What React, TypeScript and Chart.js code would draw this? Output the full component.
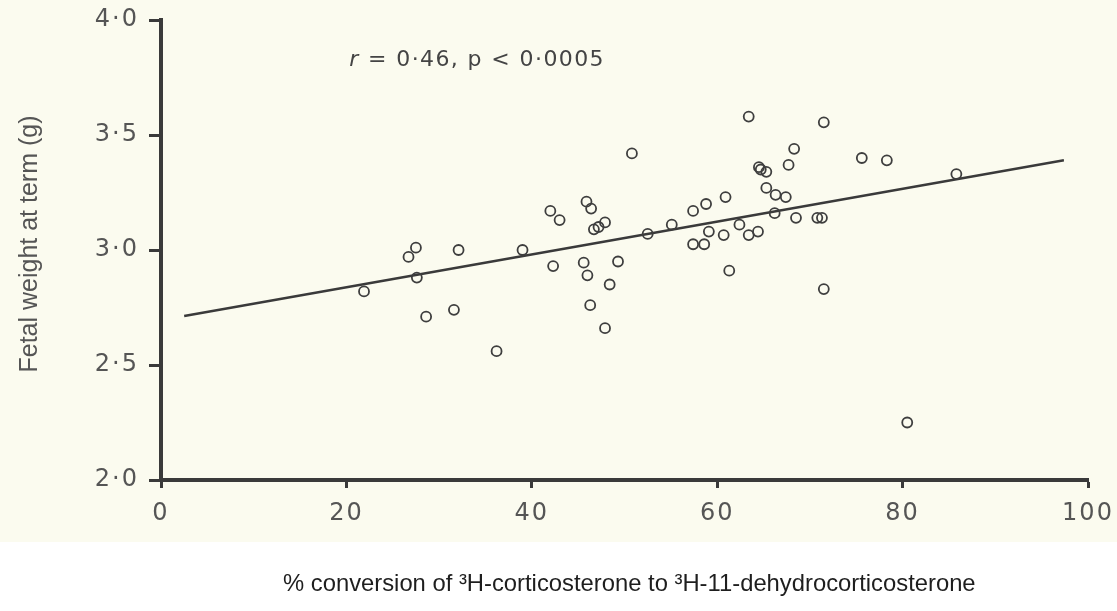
import React, { useEffect, useRef } from "react";
import { Chart, registerables } from "chart.js";

Chart.register(...registerables);

// % conversion of 3H-corticosterone (x) against fetal weight at term in g (y)
const conversionPct = [
  21.9, 26.7, 27.5, 27.6, 28.6, 31.6, 32.1, 36.2, 39.0, 42.0,
  43.0, 42.3, 45.6, 45.9, 46.4, 46.0, 46.3, 46.7, 47.2, 47.9,
  47.9, 48.4, 49.3, 50.8, 52.5, 55.1, 57.4, 57.4, 58.6, 58.8,
  59.1, 60.7, 60.9, 61.3, 62.4, 63.4, 63.4, 64.4, 64.5, 64.7,
  65.3, 65.3, 66.2, 66.3, 67.4, 67.7, 68.3, 68.5, 70.8, 71.3,
  71.5, 71.5, 75.6, 78.3, 80.5, 85.8,
];
const fetalWeight = [
  2.82, 2.97, 3.01, 2.88, 2.71, 2.74, 3.0, 2.56, 3.0, 3.17,
  3.13, 2.93, 2.945, 3.21, 3.18, 2.89, 2.76, 3.09, 3.1, 3.12,
  2.66, 2.85, 2.95, 3.42, 3.07, 3.11, 3.17, 3.025, 3.025, 3.2,
  3.08, 3.065, 3.23, 2.91, 3.11, 3.58, 3.065, 3.08, 3.36, 3.35,
  3.34, 3.27, 3.16, 3.24, 3.23, 3.37, 3.44, 3.14, 3.14, 3.14,
  3.555, 2.83, 3.4, 3.39, 2.25, 3.33,
];

// Regression line end points
const fitLineX = [2.5, 97.4];
const fitLineY = [2.713, 3.39];

const xTickValues = [0, 20, 40, 60, 80, 100];
const xTickLabels = ["0", "20", "40", "60", "80", "100"];
const yTickValues = [2.0, 2.5, 3.0, 3.5, 4.0];
const yTickLabels = ["2·0", "2·5", "3·0", "3·5", "4·0"];

const statsPrefix = "r";
const statsText = " = 0·46, p < 0·0005";
const yTitle = "Fetal weight at term (g)";
const xTitle = "% conversion of ³H-corticosterone to ³H-11-dehydrocorticosterone";

const INK = "#3a3a3a";
const LABEL = "#555555";
const TICK_FONT = "DejaVu Sans";

// Widen letter spacing only while the axes are painted
const axisSpacing = {
  id: "axisSpacing",
  beforeDraw(chart: any) {
    chart.ctx.save();
    chart.ctx.letterSpacing = "2px";
  },
  beforeDatasetsDraw(chart: any) {
    chart.ctx.restore();
  },
};

const textLayer = {
  id: "textLayer",
  afterDraw(chart: any) {
    const { ctx, scales } = chart;
    const xs = scales.x;
    const ys = scales.y;
    ctx.save();

    // correlation statistics
    ctx.fillStyle = "#444444";
    ctx.textBaseline = "alphabetic";
    ctx.textAlign = "left";
    ctx.letterSpacing = "1.4px";
    const sx = xs.getPixelForValue(20.3);
    const sy = ys.getPixelForValue(3.8);
    ctx.font = `italic 22px ${TICK_FONT}`;
    ctx.fillText(statsPrefix, sx, sy);
    const w = ctx.measureText(statsPrefix).width;
    ctx.font = `22px ${TICK_FONT}`;
    ctx.fillText(statsText, sx + w, sy);

    // y axis title
    ctx.letterSpacing = "0px";
    ctx.fillStyle = LABEL;
    ctx.font = `25px "Liberation Sans", Arial, sans-serif`;
    ctx.translate(37, (ys.top + ys.bottom) / 2 - 6);
    ctx.rotate(-Math.PI / 2);
    ctx.textAlign = "center";
    ctx.fillText(yTitle, 0, 0);
    ctx.setTransform(1, 0, 0, 1, 0, 0);

    // x axis title
    ctx.fillStyle = "#1e1e1e";
    ctx.font = `23.8px "Liberation Sans Narrow", "Arial Narrow", sans-serif`;
    ctx.textAlign = "left";
    ctx.fillText(xTitle, 283, 591);
    ctx.restore();
  },
};

export default function App() {
  const canvasRef = useRef<HTMLCanvasElement | null>(null);

  useEffect(() => {
    document.body.style.margin = "0";
    const canvas = canvasRef.current;
    if (!canvas) return;

    const points = conversionPct.map((x, i) => ({ x, y: fetalWeight[i] }));
    const fit = fitLineX.map((x, i) => ({ x, y: fitLineY[i] }));

    const chart = new Chart(canvas, {
      type: "scatter",
      data: {
        datasets: [
          {
            data: points,
            pointRadius: 5,
            pointBorderWidth: 1.8,
            borderColor: "#3e3e3e",
            backgroundColor: "rgba(0,0,0,0)",
            pointHoverRadius: 5,
          },
          {
            data: fit,
            showLine: true,
            pointRadius: 0,
            borderColor: INK,
            borderWidth: 2.4,
          },
        ],
      },
      options: {
        responsive: false,
        animation: false,
        events: [],
        layout: { padding: { top: 20, right: 29, left: 0, bottom: 0 } },
        plugins: {
          legend: { display: false },
          tooltip: { enabled: false },
        },
        scales: {
          x: {
            type: "linear",
            min: 0,
            max: 100,
            afterFit(scale: any) {
              scale.height = 131;
              scale.paddingLeft = 0;
              scale.paddingRight = 0;
            },
            afterBuildTicks(scale: any) {
              scale.ticks = xTickValues.map((value) => ({ value }));
            },
            ticks: {
              color: LABEL,
              font: { family: TICK_FONT, size: 24 },
              padding: 11,
              maxRotation: 0,
              autoSkip: false,
              callback: (_v: any, i: number) => xTickLabels[i],
            },
            grid: {
              drawOnChartArea: false,
              tickLength: 8,
              tickWidth: 3,
              tickColor: INK,
            },
            border: { display: true, width: 4, color: INK },
          },
          y: {
            type: "linear",
            min: 2,
            max: 4,
            afterFit(scale: any) {
              scale.width = 161;
              scale.paddingTop = 0;
              scale.paddingBottom = 0;
            },
            afterBuildTicks(scale: any) {
              scale.ticks = yTickValues.map((value) => ({ value }));
            },
            ticks: {
              color: LABEL,
              font: { family: TICK_FONT, size: 24 },
              padding: 10,
              autoSkip: false,
              callback: (_v: any, i: number) => yTickLabels[i],
            },
            grid: {
              drawOnChartArea: false,
              tickLength: 12,
              tickWidth: 3,
              tickColor: INK,
            },
            border: { display: true, width: 4, color: INK },
          },
        },
      },
      plugins: [axisSpacing, textLayer],
    });

    return () => chart.destroy();
  }, []);

  return (
    <div
      style={{
        position: "fixed",
        left: 0,
        top: 0,
        width: 1117,
        height: 611,
        background: "#ffffff",
      }}
    >
      <div
        style={{
          position: "absolute",
          left: 0,
          top: 0,
          width: 1117,
          height: 542,
          background: "#fbfbef",
        }}
      />
      <canvas
        ref={canvasRef}
        width={1117}
        height={611}
        style={{ position: "absolute", left: 0, top: 0, width: 1117, height: 611 }}
      />
    </div>
  );
}
